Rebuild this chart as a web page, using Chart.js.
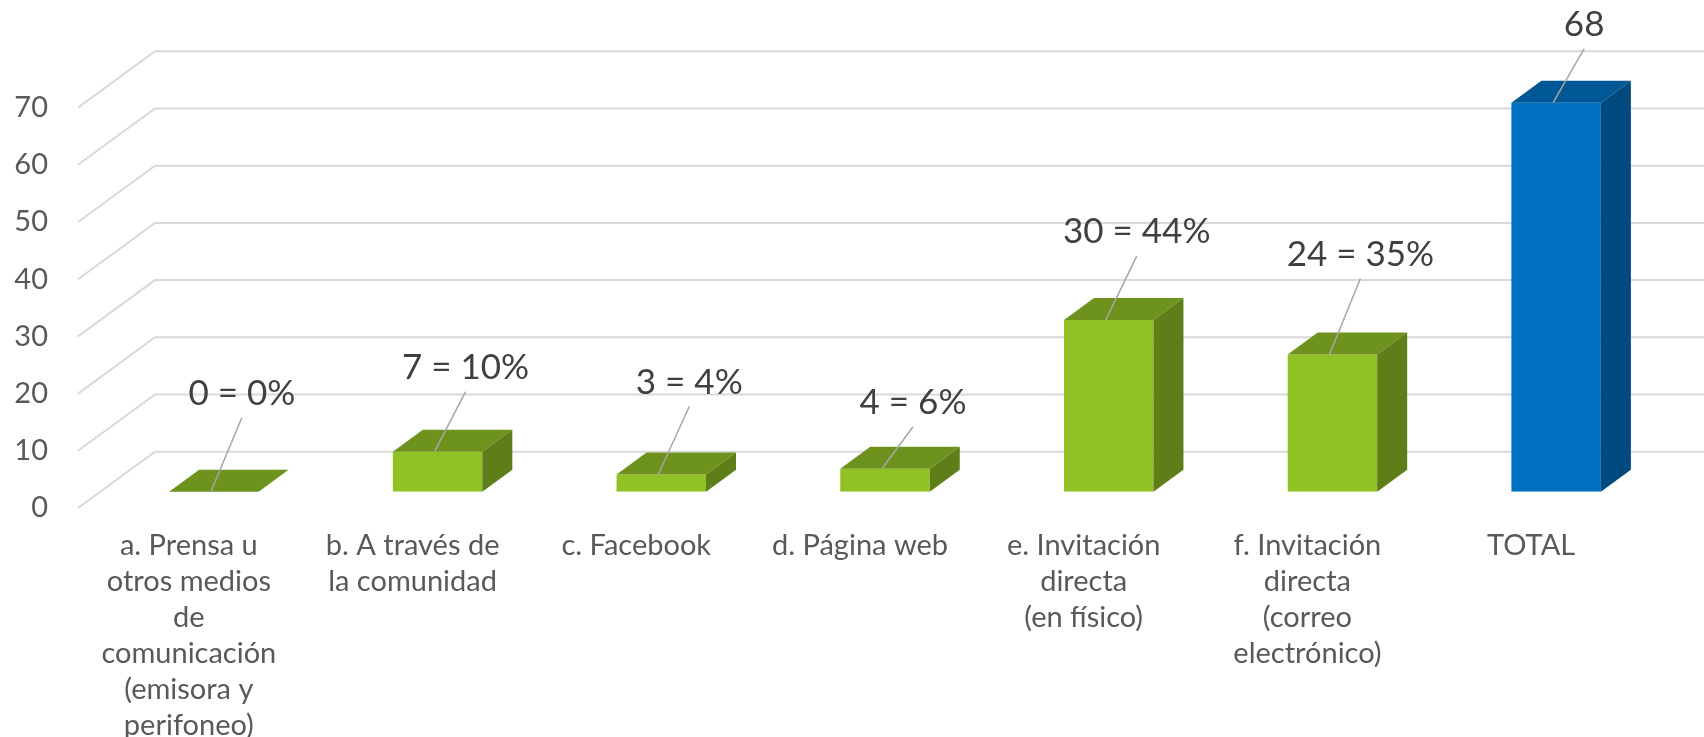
<!DOCTYPE html>
<html>
<head>
<meta charset="utf-8">
<script src="https://cdn.jsdelivr.net/npm/chart.js@4"></script>
<style>
  html, body { margin: 0; padding: 0; background: #fff; }
  #grafico { display: block; }
</style>
</head>
<body>
<canvas id="grafico" width="1704" height="737"></canvas>
<script>
// categorías (cada línea del texto va aparte)
var categorias = [
    ['a. Prensa u', 'otros medios', 'de', 'comunicación', '(emisora y', 'perifoneo)'],
    ['b. A través de', 'la comunidad'],
    ['c. Facebook'],
    ['d. Página web'],
    ['e. Invitación', 'directa', '(en físico)'],
    ['f. Invitación', 'directa', '(correo', 'electrónico)'],
    ['TOTAL']
];
var valores = [0, 7, 3, 4, 30, 24, 68];
var total = 68;
var marcasY = [0, 10, 20, 30, 40, 50, 60, 70];

// colores: frente, tapa, lado
var colorFrente = ['#90c226', '#90c226', '#90c226', '#90c226', '#90c226', '#90c226', '#0070c0'];
var colorTapa = ['#6e921e', '#6e921e', '#6e921e', '#6e921e', '#6e921e', '#6e921e', '#005796'];
var colorLado = ['#5d7e19', '#5d7e19', '#5d7e19', '#5d7e19', '#5d7e19', '#5d7e19', '#004a80'];

// altura de cada etiqueta sobre la barra (como quedó en el original)
var subida = [98, 84, 92, 66, 88, 100, 78];

var FUENTE = 'Lato, "Open Sans", sans-serif';
var PROF_X = 30, PROF_Y = -22;

function etiqueta(v, i) {
    if (i === valores.length - 1) return String(v);
    return v + ' = ' + Math.round(v / total * 100) + '%';
}

var barras3d = {
    id: 'barras3d',
    beforeDatasetsDraw: function (chart) {
        var ctx = chart.ctx, ca = chart.chartArea, y = chart.scales.y;
        ctx.save();
        ctx.strokeStyle = '#d9d9d9';
        ctx.lineWidth = 2;
        marcasY.forEach(function (v) {
            var py = y.getPixelForValue(v);
            ctx.beginPath();
            ctx.moveTo(ca.left - 24, py + 16.3);
            ctx.lineTo(ca.left + 53, py - 40);
            ctx.lineTo(chart.width, py - 40);
            ctx.stroke();
        });
        ctx.restore();
    },
    afterDatasetsDraw: function (chart) {
        var ctx = chart.ctx;
        var meta = chart.getDatasetMeta(0);
        ctx.save();
        meta.data.forEach(function (bar, i) {
            var w = bar.width, l = bar.x - w / 2, r = bar.x + w / 2;
            var top = bar.y, base = bar.base;
            // tapa
            ctx.fillStyle = colorTapa[i];
            ctx.beginPath();
            ctx.moveTo(l, top);
            ctx.lineTo(l + PROF_X, top + PROF_Y);
            ctx.lineTo(r + PROF_X, top + PROF_Y);
            ctx.lineTo(r, top);
            ctx.closePath();
            ctx.fill();
            // lado
            if (base - top > 0.5) {
                ctx.fillStyle = colorLado[i];
                ctx.beginPath();
                ctx.moveTo(r, top);
                ctx.lineTo(r + PROF_X, top + PROF_Y);
                ctx.lineTo(r + PROF_X, base + PROF_Y);
                ctx.lineTo(r, base);
                ctx.closePath();
                ctx.fill();
            }
            // línea guía y texto
            var tx = bar.x + 28, ty = top - subida[i];
            ctx.strokeStyle = '#a6a6a6';
            ctx.lineWidth = 1.5;
            ctx.beginPath();
            ctx.moveTo(tx, ty + 24);
            ctx.lineTo(bar.x - 3, top);
            ctx.stroke();
            ctx.fillStyle = '#404040';
            ctx.font = '35px ' + FUENTE;
            ctx.textAlign = 'center';
            ctx.textBaseline = 'middle';
            ctx.fillText(etiqueta(valores[i], i), tx, ty);
        });
        ctx.restore();
    }
};

var ctx = document.getElementById('grafico').getContext('2d');
var grafico = new Chart(ctx, {
    type: 'bar',
    data: {
        labels: categorias,
        datasets: [{
            data: valores,
            backgroundColor: colorFrente,
            borderWidth: 0,
            categoryPercentage: 1,
            barPercentage: 0.4
        }]
    },
    options: {
        responsive: false,
        animation: false,
        devicePixelRatio: 1,
        layout: { padding: { top: 91.3, right: 36, left: 0, bottom: 0 } },
        plugins: {
            legend: { display: false },
            tooltip: { enabled: false }
        },
        scales: {
            x: {
                grid: { display: false, drawTicks: false },
                border: { display: false },
                ticks: {
                    color: '#595959',
                    font: { family: FUENTE, size: 29, lineHeight: 1.24 },
                    padding: 36,
                    labelOffset: -25,
                    maxRotation: 0,
                    autoSkip: false
                },
                afterFit: function (s) { s.height = 245.3; }
            },
            y: {
                min: 0,
                max: 70,
                grid: { display: false, drawTicks: false },
                border: { display: false },
                ticks: {
                    stepSize: 10,
                    color: '#595959',
                    font: { family: FUENTE, size: 29 },
                    padding: 54,
                    labelOffset: 16.3
                },
                afterFit: function (s) { s.width = 102; }
            }
        }
    },
    plugins: [barras3d]
});
</script>
</body>
</html>
